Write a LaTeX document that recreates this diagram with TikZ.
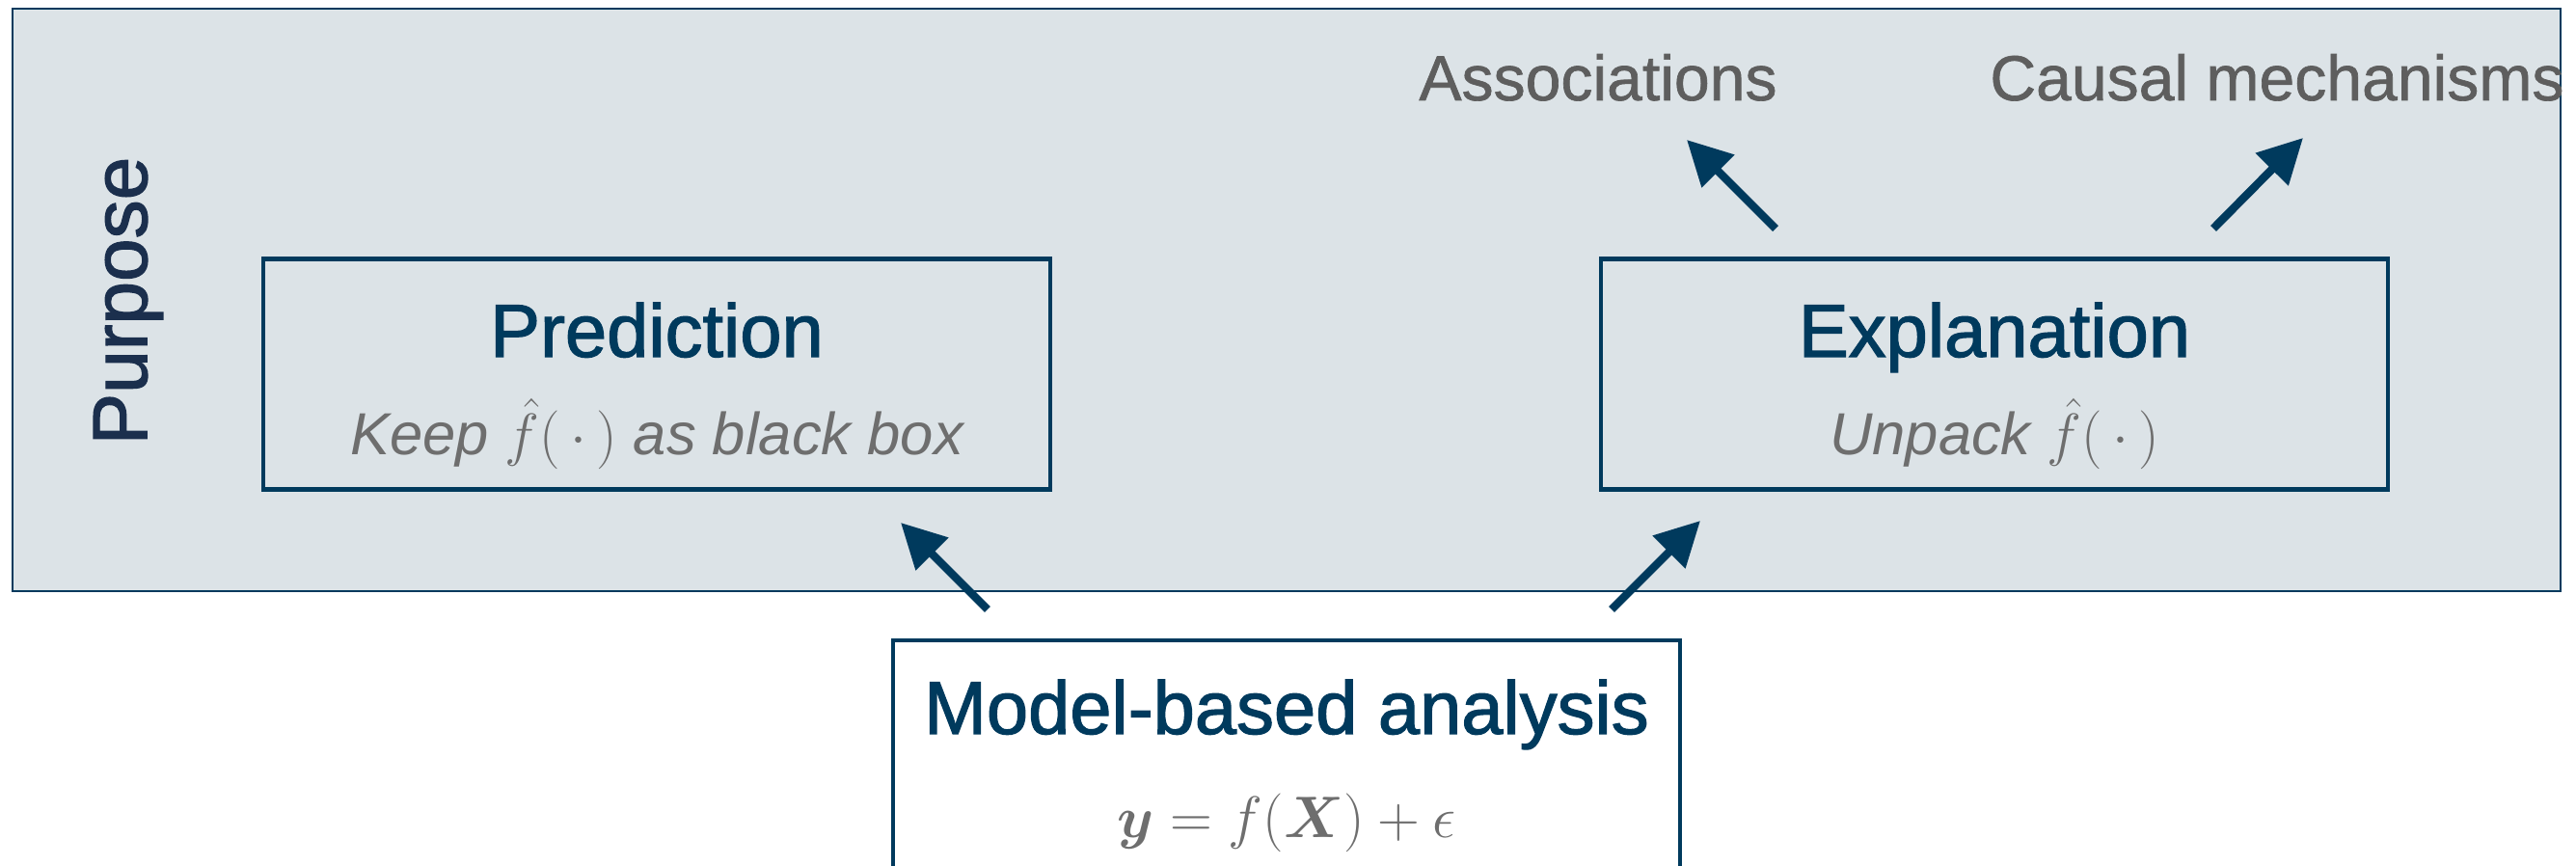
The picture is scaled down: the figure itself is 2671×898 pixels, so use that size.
\documentclass[tikz,border=0pt]{standalone}
\usepackage{amsmath}
\usepackage{fontspec}
\setmainfont{Liberation Sans}
\newfontfamily\medfont[FakeBold=1.6]{Liberation Sans}
\newfontfamily\labfont[FakeBold=1.0]{Liberation Sans}
\usetikzlibrary{arrows.meta}
\definecolor{navy}{HTML}{003A5D}
\definecolor{panel}{HTML}{DCE3E7}
\definecolor{txtgray}{HTML}{6E6E6E}
\definecolor{labgray}{HTML}{5E5E5E}
\definecolor{purp}{HTML}{1B2F4D}
\begin{document}
\begin{tikzpicture}[x=0.01cm,y=-0.01cm,
  box/.style={draw=navy, line width=1.2pt, minimum width=8.15cm, minimum height=2.39cm, inner sep=0pt},
  title/.style={text=navy, font=\medfont\fontsize{22.1}{26}\selectfont, anchor=base, inner sep=0pt},
  sub/.style={text=txtgray, font=\fontsize{17.5}{21}\selectfont\itshape, anchor=base, inner sep=0pt},
  lab/.style={text=labgray, font=\labfont\fontsize{18.8}{23}\selectfont, anchor=base, inner sep=0pt},
  arr/.style={draw=navy, line width=2.4pt, -{Triangle[length=0.46cm,width=0.46cm]}}]
\useasboundingbox (0,0) rectangle (2671,898);
\begin{scope}
\clip (0,0) rectangle (2671,898);
% purpose panel
\node[draw=navy, line width=0.7pt, fill=panel, minimum width=26.40cm, minimum height=6.04cm, inner sep=0pt] (panel) at (1334,311) {};
\node[rotate=90, text=purp, font=\medfont\fontsize{22.8}{27}\selectfont, inner sep=0pt] (purpose) at (133,312) {Purpose};
% boxes
\node[box] (pred) at (681,388) {};
\node[box] (expl) at (2068,388) {};
\node[box, fill=white, minimum height=3.00cm] (model) at (1334,814) {};
% texts
\node[title] (predt) at (681,370) {Prediction};
\node[sub] (preds) at (681,472) {Keep $\smash{\hat{f}}(\,\cdot\,)$ as black box};
\node[title] (explt) at (2068,370) {Explanation};
\node[sub] (expls) at (2068,472) {Unpack $\smash{\hat{f}}(\,\cdot\,)$};
\node[title] (modelt) at (1334,761) {Model-based analysis};
\node[text=txtgray, font=\fontsize{18.5}{22}\selectfont, anchor=base, inner sep=0pt] (models) at (1334,869) {$\boldsymbol{y} = f(\boldsymbol{X}) + \epsilon$};
\node[lab] (assoc) at (1657,104) {Associations};
\node[lab] (causal) at (2361,104) {Causal mechanisms};
% arrow end points
\coordinate (m1) at (1024,632); \coordinate (p1) at (934,542);
\coordinate (m2) at (1671,632); \coordinate (e1) at (1763,540);
\coordinate (x1) at (1841,237); \coordinate (a1) at (1749,145);
\coordinate (x2) at (2295,237); \coordinate (c1) at (2388,143);
\draw[arr] (m1) -- (p1);
\draw[arr] (m2) -- (e1);
\draw[arr] (x1) -- (a1);
\draw[arr] (x2) -- (c1);
\end{scope}
\end{tikzpicture}
\end{document}
